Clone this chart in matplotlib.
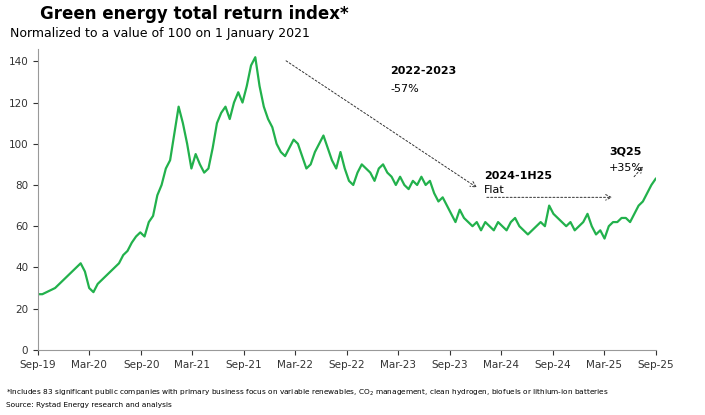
import matplotlib
matplotlib.use("Agg")
import matplotlib.pyplot as plt
import pandas as pd

values = [27,27,28,29,30,32,34,36,38,40,42,38,30,28,32,34,36,38,40,42,46,48,52,55,57,55,62,65,
          75,80,88,92,105,118,110,100,88,95,90,86,88,98,110,115,118,112,120,125,120,128,138,142,
          128,118,112,108,100,96,94,98,102,100,94,88,90,96,100,104,98,92,88,96,88,82,80,86,90,88,
          86,82,88,90,86,84,80,84,80,78,82,80,84,80,82,76,72,74,70,66,62,68,64,62,60,62,58,62,60,58,
          62,60,58,62,64,60,58,56,58,60,62,60,70,66,64,62,60,62,58,60,62,66,60,56,58,54,60,62,62,64,
          64,62,66,70,72,76,80,83]
dates = pd.date_range("2019-09-01", "2025-09-01", periods=len(values))
tick_dates = pd.date_range("2019-09-01", "2025-09-01", freq="6MS")
tick_labels = [d.strftime("%b-%y") for d in tick_dates]

fig = plt.figure(figsize=(7.05, 4.15), dpi=100)
ax = fig.add_axes([0.054, 0.157, 0.876, 0.725])
ax.plot(dates, values, color="#22b14c", lw=1.6)
ax.set_xlim(tick_dates[0], tick_dates[-1])
ax.set_ylim(0, 146)
ax.set_yticks(range(0, 141, 20))
ax.set_xticks(tick_dates)
ax.set_xticklabels(tick_labels)
ax.tick_params(labelsize=7.5, colors="#333333")
for s in ["top", "right"]:
    ax.spines[s].set_visible(False)
for s in ["left", "bottom"]:
    ax.spines[s].set_color("#999999")

ts = pd.Timestamp
ax.annotate("", xy=(ts("2023-12-15"), 78), xytext=(ts("2022-01-20"), 141),
            arrowprops=dict(arrowstyle="->", ls=(0, (2, 2)), lw=0.7, color="#333333"))
ax.annotate("", xy=(ts("2025-04-10"), 74), xytext=(ts("2024-01-01"), 74),
            arrowprops=dict(arrowstyle="->", ls=(0, (2, 2)), lw=0.7, color="#333333"))
ax.annotate("", xy=(ts("2025-07-25"), 90), xytext=(ts("2025-06-10"), 83),
            arrowprops=dict(arrowstyle="->", ls=(0, (2, 2)), lw=0.7, color="#333333"))
ax.text(ts("2023-02-01"), 134, "2022-2023", fontsize=8, fontweight="bold")
ax.text(ts("2023-02-01"), 125, "-57%", fontsize=8)
ax.text(ts("2024-01-01"), 83, "2024-1H25", fontsize=8, fontweight="bold")
ax.text(ts("2024-01-01"), 76, "Flat", fontsize=8)
ax.text(ts("2025-03-20"), 95, "3Q25", fontsize=8, fontweight="bold")
ax.text(ts("2025-03-20"), 87, "+35%", fontsize=8)

fig.text(0.275, 0.955, "Green energy total return index*", ha="center", fontsize=12, fontweight="bold")
fig.text(0.014, 0.91, "Normalized to a value of 100 on 1 January 2021", fontsize=9)
fig.text(0.008, 0.048, "*Includes 83 significant public companies with primary business focus on variable renewables, CO$_2$ management, clean hydrogen, biofuels or lithium-ion batteries",
         fontsize=5.3)
fig.text(0.008, 0.02, "Source: Rystad Energy research and analysis", fontsize=5.3)
fig.savefig("out.png")
